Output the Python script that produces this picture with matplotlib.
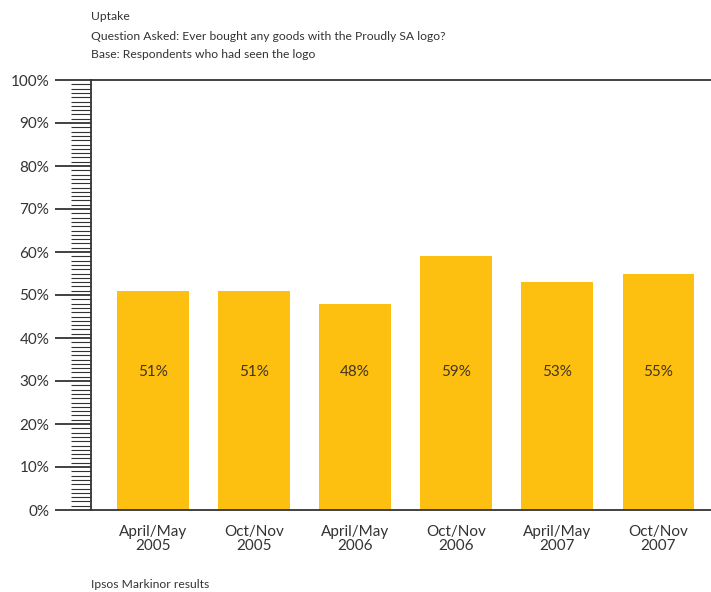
import matplotlib
matplotlib.use("Agg")
import matplotlib.pyplot as plt
from matplotlib.ticker import MultipleLocator, FuncFormatter
import numpy as np

periods = ["April/May\n2005", "Oct/Nov\n2005", "April/May\n2006",
           "Oct/Nov\n2006", "April/May\n2007", "Oct/Nov\n2007"]
uptake = [51, 51, 48, 59, 53, 55]

BAR = "#FDC010"
INK = "#333333"

plt.rcParams["font.family"] = ["Lato", "DejaVu Sans"]

fig = plt.figure(figsize=(7.11, 5.92), dpi=100)
ax = fig.add_axes([91 / 711, 1 - 510 / 592, 1 - 91 / 711, 430 / 592])

x = np.arange(len(periods))
ax.bar(x, uptake, width=0.71, color=BAR, zorder=2)
for xi, v in zip(x, uptake):
    ax.text(xi, 32, f"{v}%", ha="center", va="center", fontsize=11, color="#403520")

ax.set_xlim(-0.614, 5.52)
ax.set_ylim(0, 100)

ax.yaxis.set_major_locator(MultipleLocator(10))
ax.yaxis.set_minor_locator(MultipleLocator(1))
ax.yaxis.set_major_formatter(FuncFormatter(lambda v, _: f"{v:.0f}%"))
ax.tick_params(axis="y", which="major", length=26, width=1.3, color=INK,
               labelsize=11, labelcolor=INK, pad=4)
ax.tick_params(axis="y", which="minor", length=14.4, width=0.8, color=INK)

ax.set_xticks(x)
ax.set_xticklabels(periods, fontsize=11, color=INK, linespacing=1.0)
ax.tick_params(axis="x", length=0, pad=11)

for side in ["left", "top", "bottom"]:
    ax.spines[side].set_color(INK)
    ax.spines[side].set_linewidth(1.3)
ax.spines["right"].set_visible(False)

fig.text(91 / 711, 1 - 17 / 592, "Uptake", fontsize=8.7, color=INK, va="center")
fig.text(91 / 711, 1 - 36 / 592,
         "Question Asked: Ever bought any goods with the Proudly SA logo?",
         fontsize=8.7, color=INK, va="center")
fig.text(91 / 711, 1 - 54 / 592, "Base: Respondents who had seen the logo",
         fontsize=8.7, color=INK, va="center")
fig.text(91 / 711, 1 - 585 / 592, "Ipsos Markinor results", fontsize=8.7,
         color=INK, va="center")

fig.savefig("out.png", dpi=100)
